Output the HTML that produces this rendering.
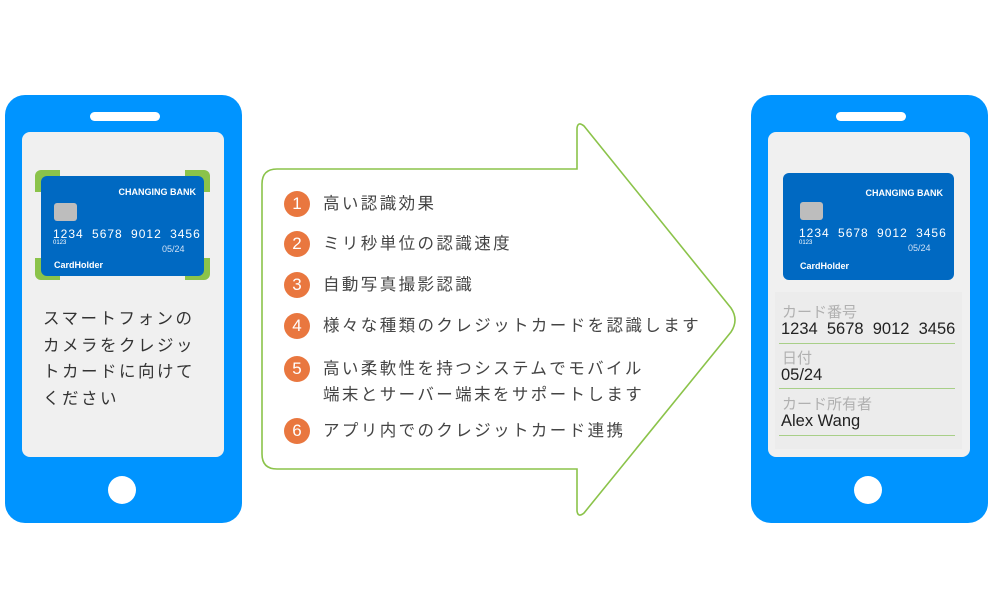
<!DOCTYPE html>
<html><head><meta charset="utf-8"><style>
html,body{margin:0;padding:0;background:#fff;}
body{width:1000px;height:605px;position:relative;overflow:hidden;font-family:"Liberation Sans","Noto Sans CJK JP",sans-serif;}
.abs{position:absolute;}
.phone{position:absolute;background:#0094ff;border-radius:20px;width:237px;height:428px;top:95px;}
.scr{position:absolute;left:17px;top:37px;width:202px;height:325px;background:#f0f0f0;border-radius:8px;}
.spk{position:absolute;left:85px;top:17px;width:70px;height:9px;background:#fff;border-radius:5px;}
.btn{position:absolute;left:103px;top:381px;width:28px;height:28px;background:#fff;border-radius:50%;}
.card{position:absolute;background:#0069c2;border-radius:6px;color:#fff;}
.item{position:absolute;left:284px;font-size:16.5px;color:#444;letter-spacing:2.4px;line-height:26px;}
.num{display:inline-block;position:absolute;left:0;width:26px;height:26px;border-radius:50%;background:#e9773f;color:#fff;text-align:center;font-size:17px;line-height:26px;letter-spacing:0;}
.item span.t{position:absolute;left:39px;white-space:nowrap;}
.lbl{position:absolute;left:782px;font-size:15px;color:#b0b0b0;}
.val{position:absolute;left:781px;font-size:16.5px;color:#222;}
.ln{position:absolute;left:779px;width:176px;height:1px;background:#a8cf88;}
</style></head><body>
<div class="phone" style="left:5px"><div class="spk"></div><div class="scr"></div><div class="btn"></div></div>
<div class="phone" style="left:751px"><div class="spk"></div><div class="scr"></div><div class="btn"></div></div>

<div class="abs" style="left:35px;top:170px;width:175px;height:110px;background:#8bc34a;border-radius:6px;"></div>
<div class="abs" style="left:60px;top:170px;width:125px;height:6px;background:#f0f0f0"></div>
<div class="abs" style="left:60px;top:274px;width:125px;height:6px;background:#f0f0f0"></div>
<div class="abs" style="left:35px;top:192px;width:6px;height:66px;background:#f0f0f0"></div>
<div class="abs" style="left:204px;top:192px;width:6px;height:66px;background:#f0f0f0"></div>
<div class="card" style="left:41px;top:176px;width:163px;height:100px;">
 <div class="abs" style="right:8px;top:11px;font-size:9px;font-weight:bold;">CHANGING BANK</div>
 <div class="abs" style="left:13px;top:27px;width:23px;height:18px;background:#bdbdbd;border-radius:3px;"></div>
 <div class="abs" style="left:12px;top:51px;font-size:12px;letter-spacing:1px;word-spacing:4px;">1234 5678 9012 3456</div>
 <div class="abs" style="left:12px;top:64px;font-size:6px;">0123</div>
 <div class="abs" style="left:121px;top:68px;font-size:9px;color:#cfe0f5">05/24</div>
 <div class="abs" style="left:13px;top:84px;font-size:9px;font-weight:bold;">CardHolder</div>
</div>
<div class="abs" style="left:43px;top:306px;font-size:16.5px;color:#333;letter-spacing:2.5px;line-height:26.5px;">スマートフォンの<br>カメラをクレジッ<br>トカードに向けて<br>ください</div>

<div class="card" style="left:783px;top:173px;width:171px;height:107px;">
 <div class="abs" style="right:11px;top:15px;font-size:9px;font-weight:bold;">CHANGING BANK</div>
 <div class="abs" style="left:17px;top:29px;width:23px;height:18px;background:#bdbdbd;border-radius:3px;"></div>
 <div class="abs" style="left:16px;top:53px;font-size:12px;letter-spacing:1px;word-spacing:4px;">1234 5678 9012 3456</div>
 <div class="abs" style="left:16px;top:67px;font-size:6px;">0123</div>
 <div class="abs" style="left:125px;top:70px;font-size:9px;color:#cfe0f5">05/24</div>
 <div class="abs" style="left:17px;top:88px;font-size:9px;font-weight:bold;">CardHolder</div>
</div>
<div class="abs" style="left:775px;top:292px;width:187px;height:157px;background:#ececec;"></div>
<div class="lbl" style="top:301px">カード番号</div>
<div class="val" style="top:320px">1234&nbsp; 5678&nbsp; 9012&nbsp; 3456</div>
<div class="ln" style="top:343px"></div>
<div class="lbl" style="top:347px">日付</div>
<div class="val" style="top:366px">05/24</div>
<div class="ln" style="top:388px"></div>
<div class="lbl" style="top:393px">カード所有者</div>
<div class="val" style="top:412px">Alex Wang</div>
<div class="ln" style="top:435px"></div>

<svg class="abs" style="left:0;top:0" width="1000" height="605">
<path d="M277 169 L577 169 L577 128 Q578 121 584 126 L731 308 Q739 320 731 332 L584 513 Q578 518 577 511 L577 469 L277 469 Q262 469 262 454 L262 184 Q262 169 277 169 Z" fill="none" stroke="#8bc34a" stroke-width="1.6"/>
</svg>

<div class="item" style="top:191px"><span class="num">1</span><span class="t">高い認識効果</span></div>
<div class="item" style="top:231px"><span class="num">2</span><span class="t">ミリ秒単位の認識速度</span></div>
<div class="item" style="top:272px"><span class="num">3</span><span class="t">自動写真撮影認識</span></div>
<div class="item" style="top:313px"><span class="num">4</span><span class="t">様々な種類のクレジットカードを認識します</span></div>
<div class="item" style="top:356px"><span class="num">5</span><span class="t">高い柔軟性を持つシステムでモバイル<br>端末とサーバー端末をサポートします</span></div>
<div class="item" style="top:418px"><span class="num">6</span><span class="t">アプリ内でのクレジットカード連携</span></div>
</body></html>
